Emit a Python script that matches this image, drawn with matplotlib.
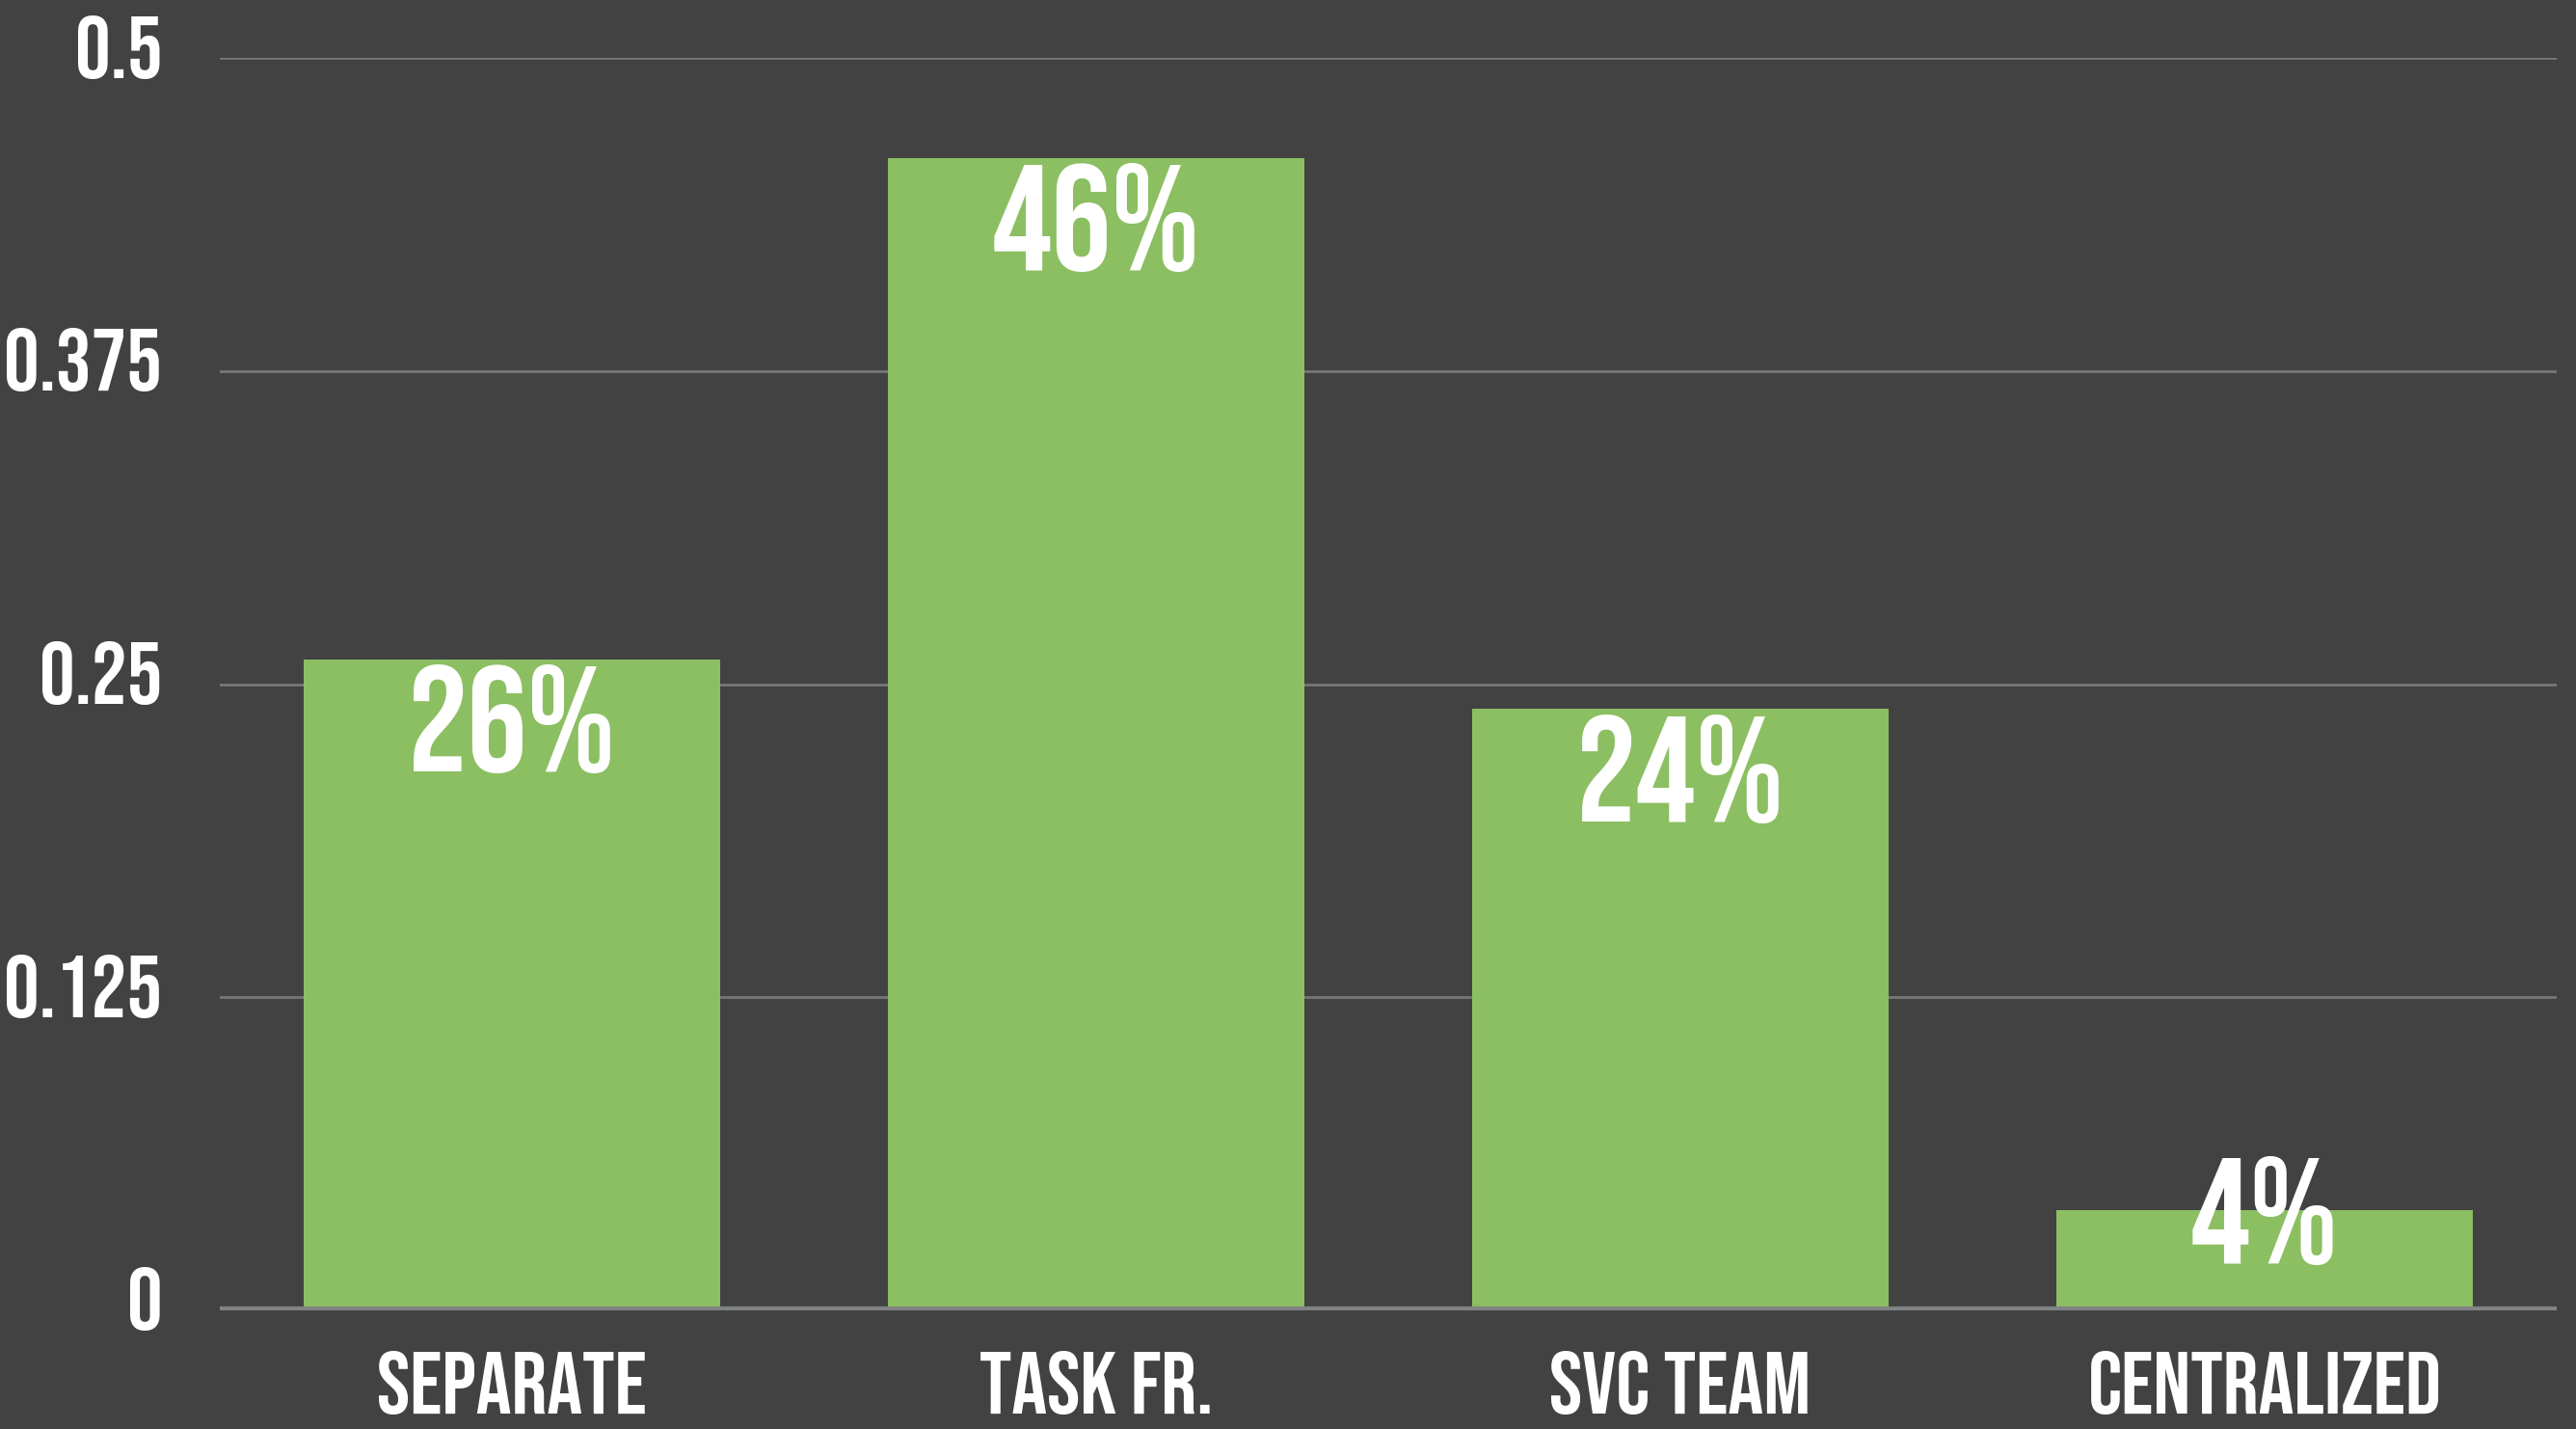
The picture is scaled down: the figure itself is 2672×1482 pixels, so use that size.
import matplotlib
matplotlib.use('Agg')
import matplotlib.pyplot as plt
from matplotlib.ticker import FixedLocator, FixedFormatter
from matplotlib.transforms import ScaledTranslation

plt.rcParams['font.family'] = ['Bebas Neue', 'Barlow Condensed', 'DejaVu Sans']

# data
categories = ['SEPARATE', 'TASK FR.', 'SVC TEAM', 'CENTRALIZED']
values = [0.26, 0.46, 0.24, 0.04]
labels = ['26%', '46%', '24%', '4%']
yticks = [0, 0.125, 0.25, 0.375, 0.5]
ytick_labels = ['0', '0.125', '0.25', '0.375', '0.5']

BG = '#424242'
GREEN = '#8bbf62'
GRID = '#777777'

fig = plt.figure(figsize=(26.72, 14.82), dpi=100, facecolor=BG)
ax = fig.add_axes([228 / 2672, 1 - 1359 / 1482, (2652 - 228) / 2672, (1359 - 60) / 1482])
ax.set_facecolor(BG)

x = list(range(len(categories)))
ax.bar(x, values, width=0.713, color=GREEN, zorder=2)

ax.set_xlim(-0.5, 3.5)
ax.set_ylim(0, 0.5)

# gridlines
for t in yticks[1:]:
    ax.axhline(t, color=GRID, lw=2, zorder=1)
ax.axhline(0, color='#808283', lw=6, zorder=3)

for s in ax.spines.values():
    s.set_visible(False)

ax.yaxis.set_major_locator(FixedLocator(yticks))
ax.yaxis.set_major_formatter(FixedFormatter(ytick_labels))
ax.set_xticks(x)
ax.set_xticklabels(categories)
ax.tick_params(axis='both', length=0, colors='white', labelsize=66)
ax.tick_params(axis='y', pad=43)
ax.tick_params(axis='x', pad=30)

# y labels sit a little above their gridline
up = ScaledTranslation(0, 0.12, fig.dpi_scale_trans)
for lab in ax.get_yticklabels():
    lab.set_transform(lab.get_transform() + up)

# value labels, inside the top of the bar (short bar: centred on the top)
for xi, v, lab in zip(x, values, labels):
    if v > 0.1:
        ax.text(xi, v - 0.002, lab, ha='center', va='top', color='white',
                fontsize=112, zorder=4)
    else:
        ax.text(xi, v, lab, ha='center', va='center', color='white',
                fontsize=112, zorder=4)

fig.savefig('out.png', dpi=100, facecolor=BG)
